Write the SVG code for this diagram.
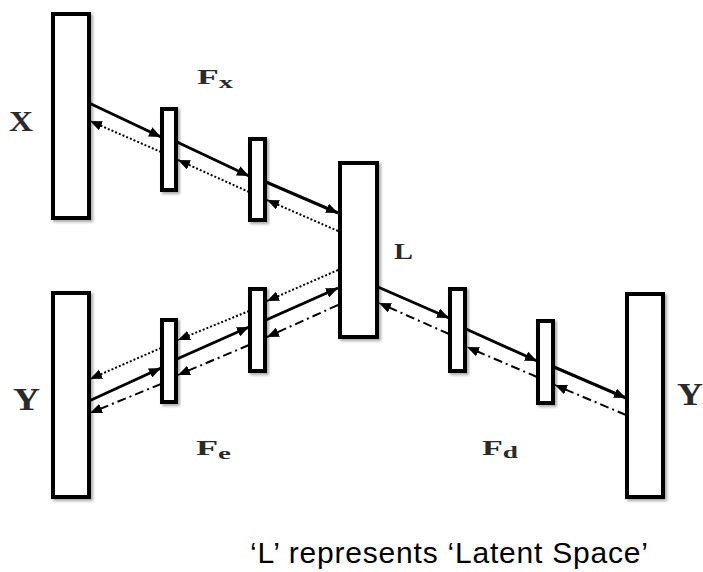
<svg xmlns="http://www.w3.org/2000/svg" width="703" height="572" viewBox="0 0 703 572">
<defs>
<filter id="sh" x="-30%" y="-10%" width="160%" height="120%">
<feGaussianBlur in="SourceAlpha" stdDeviation="1.5"/>
<feOffset dx="2" dy="2" result="b"/>
<feComponentTransfer><feFuncA type="linear" slope="0.35"/></feComponentTransfer>
<feMerge><feMergeNode/><feMergeNode in="SourceGraphic"/></feMerge>
</filter>
<marker id="ah" viewBox="0 0 12 10" refX="12" refY="5" markerWidth="12" markerHeight="10" markerUnits="userSpaceOnUse" orient="auto">
<path d="M0,0 L12,5 L0,10 z" fill="#000"/>
</marker>
</defs>
<style>
.box{fill:#fff;stroke:#000;stroke-width:4;filter:url(#sh)}
.s{stroke:#000;stroke-width:3;fill:none;marker-end:url(#ah)}
.d{stroke:#000;stroke-width:2;stroke-dasharray:2,2;fill:none;marker-end:url(#ah)}
.dd{stroke:#000;stroke-width:2;stroke-dasharray:9,4,2,4;fill:none;marker-end:url(#ah)}
.lbl{font-family:"Liberation Serif",serif;font-weight:bold;fill:#2a2a2a}
.cap{font-family:"Liberation Sans",Arial,sans-serif;fill:#000}
</style>
<rect width="703" height="572" fill="#fff"/>
<g id="X"><rect class="box" x="53" y="14" width="36" height="204"/><text class="lbl" x="9" y="131" font-size="29" textLength="24" lengthAdjust="spacingAndGlyphs">X</text></g>
<g id="fx1"><rect class="box" x="162" y="109" width="14" height="81"/></g>
<g id="fx2"><rect class="box" x="250" y="139" width="15" height="81"/></g>
<g id="L"><rect class="box" x="340" y="163" width="37" height="174"/><text class="lbl" x="394" y="259" font-size="23" textLength="19" lengthAdjust="spacingAndGlyphs">L</text></g>
<g id="Yin"><rect class="box" x="53" y="293" width="36" height="204"/><text class="lbl" x="13" y="410" font-size="31" textLength="27" lengthAdjust="spacingAndGlyphs">Y</text></g>
<g id="fd2"><rect class="box" x="538" y="321" width="15" height="82"/></g>
<g id="fe1"><rect class="box" x="162" y="320" width="14" height="82"/></g>
<g id="fe2"><rect class="box" x="250" y="289" width="15" height="82"/></g>
<g id="fd1"><rect class="box" x="450" y="289" width="15" height="82"/></g>
<g id="Yout"><rect class="box" x="627" y="294" width="36" height="203"/><text class="lbl" x="677" y="405" font-size="31" textLength="26" lengthAdjust="spacingAndGlyphs">Y</text></g>
<g id="labels">
<text class="lbl" x="197" y="84" font-size="20" textLength="36" lengthAdjust="spacingAndGlyphs">F<tspan font-size="16" dy="4">x</tspan></text>
<text class="lbl" x="196" y="455" font-size="20" textLength="35" lengthAdjust="spacingAndGlyphs">F<tspan font-size="16" dy="4">e</tspan></text>
<text class="lbl" x="482" y="455" font-size="20" textLength="36" lengthAdjust="spacingAndGlyphs">F<tspan font-size="16" dy="3">d</tspan></text>
<text class="cap" x="250" y="563" font-size="30" textLength="398">‘L’ represents ‘Latent Space’</text>
</g>
<g id="connectors">
<line class="s" x1="89" y1="103" x2="161" y2="137"/>
<line class="d" x1="161" y1="152" x2="90" y2="121"/>
<line class="s" x1="177" y1="142" x2="249" y2="176"/>
<line class="d" x1="249" y1="192" x2="178" y2="160"/>
<line class="s" x1="266" y1="182" x2="338" y2="213"/>
<line class="d" x1="338" y1="231" x2="267" y2="200"/>

<line class="s" x1="89" y1="401" x2="161" y2="368"/>
<line class="d" x1="161" y1="348" x2="90" y2="379"/>
<line class="dd" x1="161" y1="384" x2="90" y2="413"/>
<line class="s" x1="177" y1="359" x2="249" y2="327"/>
<line class="d" x1="249" y1="311" x2="178" y2="340"/>
<line class="dd" x1="249" y1="345" x2="178" y2="375"/>
<line class="s" x1="266" y1="320" x2="338" y2="288"/>
<line class="d" x1="338" y1="270" x2="267" y2="301"/>
<line class="dd" x1="338" y1="305" x2="267" y2="337"/>

<line class="s" x1="378" y1="287" x2="449" y2="318"/>
<line class="dd" x1="449" y1="334" x2="379" y2="303"/>
<line class="s" x1="466" y1="329" x2="537" y2="361"/>
<line class="dd" x1="537" y1="377" x2="467" y2="347"/>
<line class="s" x1="554" y1="367" x2="626" y2="398"/>
<line class="dd" x1="626" y1="415" x2="555" y2="385"/>
</g>
</svg>
